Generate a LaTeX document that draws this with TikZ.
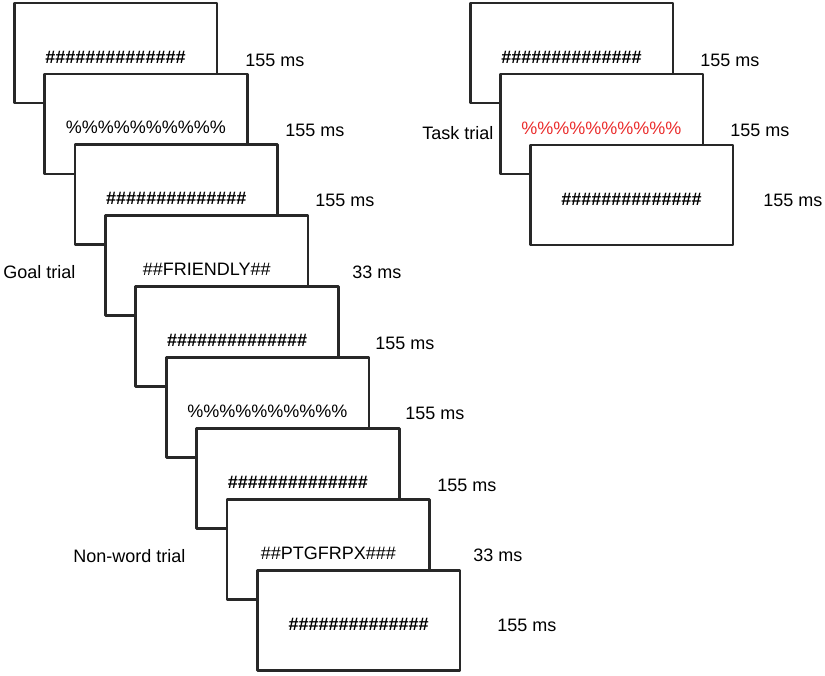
\documentclass[tikz,border=0pt]{standalone}
\usepackage{fontspec}
\setmainfont{Liberation Sans}
\usetikzlibrary{positioning}
\definecolor{frame}{RGB}{40,40,40}
\definecolor{cue}{RGB}{235,45,45}
\tikzset{
  screen/.style={draw=frame,line width=2pt,fill=white,line join=round,
    minimum width=152pt,minimum height=75pt,inner sep=0pt,
    text height=15pt,text depth=0pt,font=\fontsize{13.5}{16}\selectfont},
  dur/.style={anchor=west,inner sep=0pt,font=\fontsize{13.5}{16}\selectfont},
  trial/.style={anchor=west,inner sep=0pt,font=\fontsize{13.5}{16}\selectfont}
}
\newcommand{\hashrow}{\textbf{\#\#\#\#\#\#\#\#\#\#\#\#\#\#}}
\newcommand{\pctrow}{\%\%\%\%\%\%\%\%\%\%}
\begin{document}
\begin{tikzpicture}[x=0.75pt,y=-0.75pt]
\useasboundingbox (0,0) rectangle (825,675);
% goal and non-word sequence
\node[screen] (g1) at (115.5,53)    {\hashrow};         \node[dur] (d1) at (245,60)  {155 ms};
\node[screen] (g2) at (145.9,123.9) {\pctrow};          \node[dur] (d2) at (285,130) {155 ms};
\node[screen] (g3) at (176.3,194.8) {\hashrow};         \node[dur] (d3) at (315,200) {155 ms};
\node[screen] (g4) at (206.7,265.7) {\#\#FRIENDLY\#\#};  \node[dur] (d4) at (352,272) {33 ms};
\node[screen] (g5) at (237.1,336.6) {\hashrow};         \node[dur] (d5) at (375,343) {155 ms};
\node[screen] (g6) at (267.5,407.5) {\pctrow};          \node[dur] (d6) at (405,413) {155 ms};
\node[screen] (g7) at (297.9,478.4) {\hashrow};         \node[dur] (d7) at (437,485) {155 ms};
\node[screen] (g8) at (328.3,549.3) {\#\#PTGFRPX\#\#\#}; \node[dur] (d8) at (473,555) {33 ms};
\node[screen] (g9) at (358.7,620.2) {\hashrow};         \node[dur] (d9) at (497,625) {155 ms};
\node[trial] (goal) at (3,272) {Goal trial};
\node[trial] (nonword) at (73,556) {Non-word trial};
% task sequence
\node[screen] (t1) at (571.5,53)  {\hashrow};            \node[dur] (e1) at (700,60)  {155 ms};
\node[screen] (t2) at (601.5,124) {\textcolor{cue}{\pctrow}}; \node[dur] (e2) at (730,130) {155 ms};
\node[screen] (t3) at (631.5,195) {\hashrow};            \node[dur] (e3) at (763,200) {155 ms};
\node[trial] (task) at (422,133) {Task trial};
\end{tikzpicture}
\end{document}
